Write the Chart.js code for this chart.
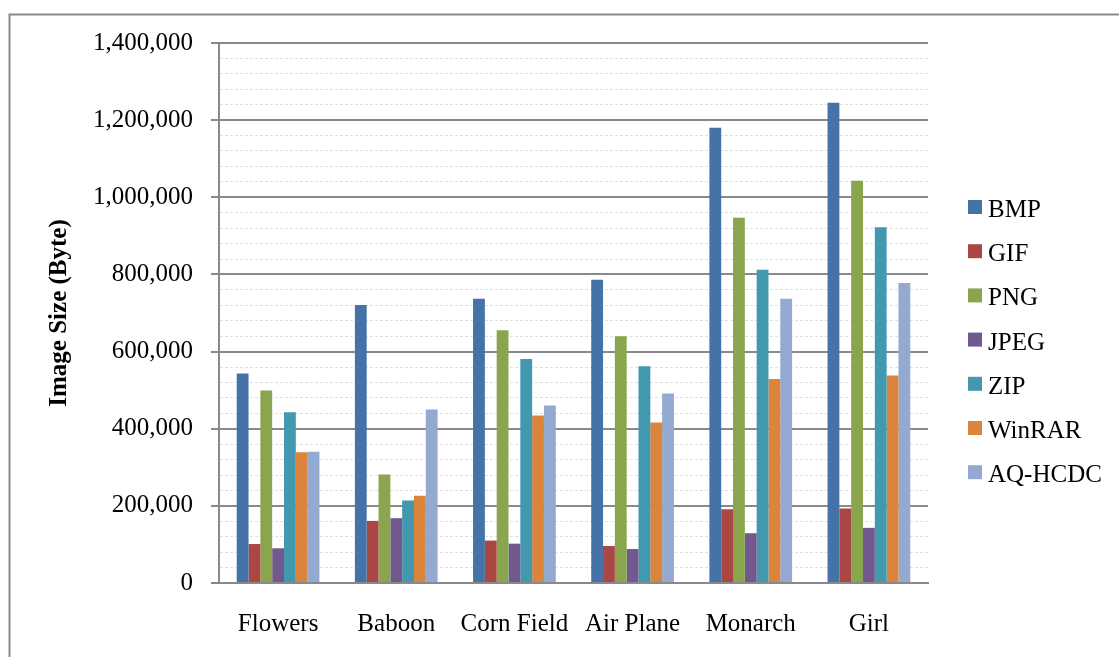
<!DOCTYPE html>
<html>
<head>
<meta charset="utf-8">
<title>Image Size by Format</title>
<script src="https://cdn.jsdelivr.net/npm/chart.js@4/dist/chart.umd.min.js"></script>
<style>
  html, body { margin: 0; padding: 0; background: #ffffff; }
  #wrap { width: 1119px; height: 657px; position: relative; }
</style>
</head>
<body>
<div id="wrap"><canvas id="chart" width="1119" height="657"></canvas></div>
<script>
// Test images
const categories = ['Flowers', 'Baboon', 'Corn Field', 'Air Plane', 'Monarch', 'Girl'];

// File sizes in bytes for each format / compressor
const bmp    = [543000, 721000, 737000, 786000, 1180000, 1245000];
const gif    = [101000, 161000, 110000,  96000,  191000,  193000];
const png    = [499000, 281000, 655000, 640000,  947000, 1043000];
const jpeg   = [ 90000, 168000, 102000,  88000,  129000,  143000];
const zip    = [443000, 214000, 581000, 562000,  812000,  922000];
const winrar = [339000, 226000, 434000, 416000,  529000,  538000];
const aqhcdc = [340000, 450000, 460000, 491000,  737000,  778000];

const seriesNames = ['BMP', 'GIF', 'PNG', 'JPEG', 'ZIP', 'WinRAR', 'AQ-HCDC'];
const seriesValues = [bmp, gif, png, jpeg, zip, winrar, aqhcdc];
const seriesColors = ['#4572A7', '#AA4643', '#89A54E', '#71588F', '#4198AF', '#DB843D', '#93A9CF'];

// Y axis range and tick spacing
const yMin = 0;
const yMax = 1400000;
const yMinorStep = 40000;
const yMajorStep = 200000;

const FONT = "'Liberation Serif', 'Times New Roman', serif";
const AXIS_GRAY = '#898989';
const MINOR_GRAY = '#e0e0e0';

const isMajor = v => Math.abs(v % yMajorStep) < 1;

// Outer frame of the chart object
const framePlugin = {
  id: 'frame',
  beforeDraw(chart) {
    const ctx = chart.ctx;
    ctx.save();
    ctx.fillStyle = '#ffffff';
    ctx.fillRect(0, 0, chart.width, chart.height);
    ctx.strokeStyle = AXIS_GRAY;
    ctx.lineWidth = 2;
    ctx.strokeRect(9.5, 14.5, chart.width + 20, chart.height + 20);
    ctx.restore();
  }
};

// Legend drawn as a vertical list to the right of the plot area
const sideLegend = {
  id: 'sideLegend',
  afterDraw(chart) {
    const ctx = chart.ctx;
    const area = chart.chartArea;
    const boxX = area.right + 40;
    const box = 14;
    const firstBaseline = 217;
    const step = 44.2;
    ctx.save();
    ctx.font = '25px ' + FONT;
    ctx.textAlign = 'left';
    ctx.textBaseline = 'alphabetic';
    chart.data.datasets.forEach((ds, i) => {
      const base = firstBaseline + i * step;
      ctx.fillStyle = ds.backgroundColor;
      ctx.fillRect(boxX, base - 17, box, box);
      ctx.fillStyle = '#000000';
      ctx.fillText(ds.label, boxX + 20, base);
    });
    ctx.restore();
  }
};

const datasets = seriesNames.map((name, i) => ({
  label: name,
  data: seriesValues[i],
  backgroundColor: seriesColors[i],
  borderWidth: 0,
  categoryPercentage: 0.7,
  barPercentage: 1.0
}));

new Chart(document.getElementById('chart'), {
  type: 'bar',
  data: { labels: categories, datasets },
  options: {
    responsive: false,
    animation: false,
    devicePixelRatio: 1,
    layout: { padding: { left: 0, top: 43, right: 191, bottom: 0 } },
    plugins: {
      legend: { display: false },
      tooltip: { enabled: false }
    },
    scales: {
      x: {
        grid: { display: false, drawTicks: false, tickLength: 0 },
        border: { display: true, color: AXIS_GRAY, width: 2 },
        ticks: {
          color: '#000000',
          font: { family: FONT, size: 25 },
          padding: 26,
          maxRotation: 0,
          autoSkip: false
        },
        afterFit(scale) { scale.height = 74; }
      },
      y: {
        min: yMin,
        max: yMax,
        grid: {
          color: ctx => (ctx.tick && isMajor(ctx.tick.value)) ? AXIS_GRAY : MINOR_GRAY,
          lineWidth: ctx => (ctx.tick && isMajor(ctx.tick.value)) ? 2 : 1,
          tickColor: ctx => (ctx.tick && isMajor(ctx.tick.value)) ? AXIS_GRAY : 'rgba(0,0,0,0)',
          tickLength: 8,
          tickWidth: 2
        },
        border: {
          display: true,
          color: AXIS_GRAY,
          width: 2,
          dash: ctx => (ctx.tick && !isMajor(ctx.tick.value)) ? [3, 2] : []
        },
        ticks: {
          stepSize: yMinorStep,
          autoSkip: false,
          color: '#000000',
          font: { family: FONT, size: 25 },
          padding: 18,
          callback: v => isMajor(v) ? v.toLocaleString('en-US') : ''
        },
        title: {
          display: true,
          text: 'Image Size (Byte)',
          color: '#000000',
          font: { family: FONT, size: 25, weight: 'bold' },
          padding: { top: 45, bottom: 0 }
        },
        afterFit(scale) { scale.width = 219; }
      }
    }
  },
  plugins: [framePlugin, sideLegend]
});
</script>
</body>
</html>
